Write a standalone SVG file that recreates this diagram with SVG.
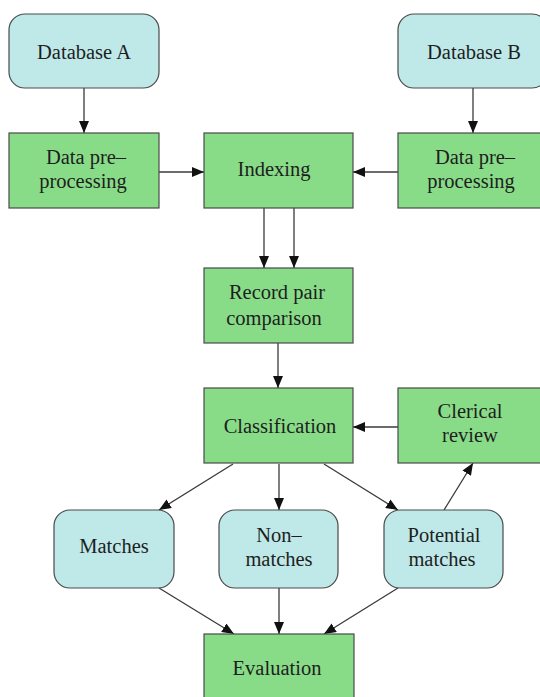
<svg xmlns="http://www.w3.org/2000/svg" width="540" height="697" viewBox="0 0 540 697" font-family="Liberation Serif, Tinos, Times New Roman, Nimbus Roman, FreeSerif, DejaVu Serif, serif">
  <style>
    .term { fill: #bfe9e9; stroke: #4a4a4a; stroke-width: 1.2; }
    .step { fill: #88dc88; stroke: #4a4a4a; stroke-width: 1.2; }
    text { font-size: 20.5px; fill: #1e1e1e; text-anchor: middle; }
    .edge { stroke: #3a3a3a; stroke-width: 1.3; fill: none; marker-end: url(#arrow); }
  </style>
  <defs>
    <marker id="arrow" viewBox="0 0 12 10" refX="12" refY="5" markerWidth="12" markerHeight="10" markerUnits="userSpaceOnUse" orient="auto">
      <path d="M0,0 L12,5 L0,10 Z" fill="#111"/>
    </marker>
  </defs>
  <rect width="540" height="697" fill="#ffffff"/>

  <g id="connectors">
    <line class="edge" x1="84" y1="88" x2="84" y2="133"/>
    <line class="edge" x1="473" y1="88" x2="473" y2="133"/>
    <line class="edge" x1="159" y1="172" x2="204" y2="172"/>
    <line class="edge" x1="398" y1="172" x2="353" y2="172"/>
    <line class="edge" x1="264" y1="208" x2="264" y2="268"/>
    <line class="edge" x1="294" y1="208" x2="294" y2="268"/>
    <line class="edge" x1="278" y1="343" x2="278" y2="388"/>
    <line class="edge" x1="398" y1="427" x2="353" y2="427"/>
    <line class="edge" x1="233" y1="464" x2="159" y2="510"/>
    <line class="edge" x1="279" y1="464" x2="279" y2="510"/>
    <line class="edge" x1="324" y1="464" x2="398" y2="510"/>
    <line class="edge" x1="444" y1="510" x2="473" y2="463"/>
    <line class="edge" x1="159" y1="588" x2="234" y2="634"/>
    <line class="edge" x1="279" y1="588" x2="279" y2="634"/>
    <line class="edge" x1="398" y1="588" x2="324" y2="634"/>
  </g>

  <g id="database-a">
    <rect class="term" x="9" y="14" width="150" height="74" rx="16"/>
    <text x="84" y="59">Database A</text>
  </g>
  <g id="database-b">
    <rect class="term" x="398" y="14" width="150" height="74" rx="16"/>
    <text x="474" y="59">Database B</text>
  </g>
  <g id="preprocess-a">
    <rect class="step" x="9" y="133" width="150" height="75"/>
    <text x="86" y="164">Data pre–</text>
    <text x="83" y="188">processing</text>
  </g>
  <g id="indexing">
    <rect class="step" x="204" y="133" width="149" height="75"/>
    <text x="274" y="176">Indexing</text>
  </g>
  <g id="preprocess-b">
    <rect class="step" x="398" y="133" width="150" height="75"/>
    <text x="475" y="164">Data pre–</text>
    <text x="471" y="188">processing</text>
  </g>
  <g id="record-pair-comparison">
    <rect class="step" x="204" y="268" width="149" height="75"/>
    <text x="277" y="299">Record pair</text>
    <text x="274" y="325">comparison</text>
  </g>
  <g id="classification">
    <rect class="step" x="204" y="388" width="149" height="75"/>
    <text x="280" y="433">Classification</text>
  </g>
  <g id="clerical-review">
    <rect class="step" x="398" y="388" width="150" height="75"/>
    <text x="470" y="418">Clerical</text>
    <text x="470" y="442">review</text>
  </g>
  <g id="matches">
    <rect class="term" x="54" y="510" width="120" height="78" rx="16"/>
    <text x="114" y="553">Matches</text>
  </g>
  <g id="non-matches">
    <rect class="term" x="219" y="510" width="119" height="78" rx="16"/>
    <text x="279" y="542">Non–</text>
    <text x="279" y="566">matches</text>
  </g>
  <g id="potential-matches">
    <rect class="term" x="384" y="510" width="119" height="78" rx="16"/>
    <text x="444" y="542">Potential</text>
    <text x="442" y="566">matches</text>
  </g>
  <g id="evaluation">
    <rect class="step" x="204" y="634" width="150" height="76"/>
    <text x="277" y="675">Evaluation</text>
  </g>
</svg>
